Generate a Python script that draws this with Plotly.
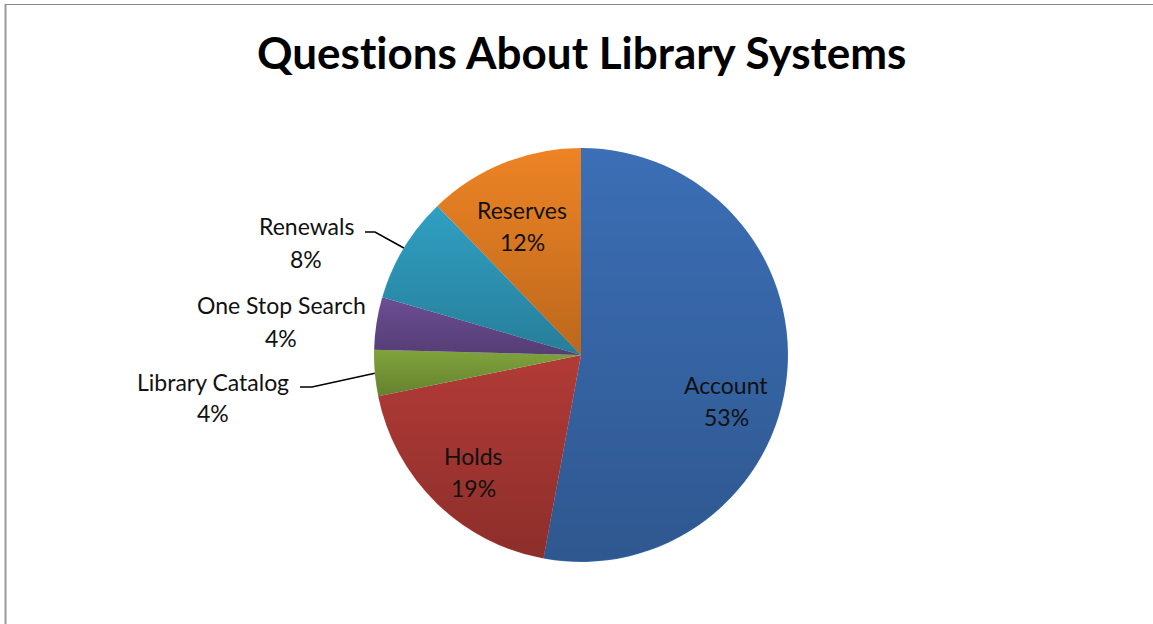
import base64
import math
import struct
import zlib

import numpy as np
import plotly.graph_objects as go

# ---- data -----------------------------------------------------------------
categories = ["Account", "Holds", "Library Catalog", "One Stop Search", "Renewals", "Reserves"]
shares = [52.9, 18.9, 3.6, 4.1, 8.3, 12.2]
colors = ["#3C6FB6", "#B23B37", "#80A43D", "#6C4E94", "#31A0C3", "#EE8425"]

W, H = 1153, 624
FONT = "Lato"
LABEL_SIZE = 23

# pie box in pixels
CX, CY, R = 581.0, 355.0, 207.0
dom_x = [(CX - R) / W, (CX + R) / W]
dom_y = [1 - (CY + R) / H, 1 - (CY - R) / H]

total = sum(shares)
pct = [f"{round(v / total * 100)}%" for v in shares]

# slice angles, clockwise from 12 o'clock
bounds = []
acc = 0.0
for v in shares:
    a0 = acc / total * 2 * math.pi
    acc += v
    a1 = acc / total * 2 * math.pi
    bounds.append((a0, a1))


def edge_point(i, rr=R):
    a0, a1 = bounds[i]
    m = (a0 + a1) / 2
    return CX + rr * math.sin(m), CY - rr * math.cos(m)


def px(x):
    return x / W


def py(y):
    return 1 - y / H


# ---- per-slice vertical shading overlay (PNG built with numpy) -------------
def shading_png():
    D = int(2 * R)
    ss = 3
    idx = (np.arange(D * ss) + 0.5) / ss
    xx, yy = np.meshgrid(idx - R, idx - R)
    rad = np.hypot(xx, yy)
    inside = rad <= (R - 0.6)
    ang = np.mod(np.arctan2(xx, -yy), 2 * np.pi)
    tval = np.zeros_like(xx)
    for a0, a1 in bounds:
        th = np.linspace(a0, a1, 200)
        ys = np.concatenate([-R * np.cos(th), [0.0]])
        top, bot = ys.min(), ys.max()
        m = (ang >= a0) & (ang < a1)
        tval[m] = np.clip((yy[m] - top) / max(bot - top, 1.0), 0, 1)
    alpha = np.where(inside, 0.21 * tval, 0.0)
    alpha = alpha.reshape(D, ss, D, ss).mean(axis=(1, 3))
    a8 = (alpha * 255).round().astype(np.uint8)
    rgba = np.zeros((D, D, 4), dtype=np.uint8)
    rgba[..., 3] = a8
    raw = b"".join(b"\x00" + rgba[r].tobytes() for r in range(D))

    def chunk(tag, data):
        c = struct.pack(">I", len(data)) + tag + data
        return c + struct.pack(">I", zlib.crc32(tag + data) & 0xFFFFFFFF)

    png = (b"\x89PNG\r\n\x1a\n"
           + chunk(b"IHDR", struct.pack(">IIBBBBB", D, D, 8, 6, 0, 0, 0))
           + chunk(b"IDAT", zlib.compress(raw, 9))
           + chunk(b"IEND", b""))
    return "data:image/png;base64," + base64.b64encode(png).decode()


fig = go.Figure(go.Pie(
    labels=categories,
    values=shares,
    sort=False,
    direction="clockwise",
    rotation=0,
    marker=dict(colors=colors, line=dict(width=0)),
    textinfo="none",
    domain=dict(x=dom_x, y=dom_y),
    showlegend=False,
    hoverinfo="label+percent",
))

annotations = []
shapes = []

# title, with ligatures switched off
annotations.append(dict(
    text='<span style="font-variant-ligatures:none;font-feature-settings:\'liga\' 0">'
         '<b>Questions About Library Systems</b></span>',
    x=px(581), y=py(52),
    xref="paper", yref="paper", showarrow=False,
    font=dict(family=FONT, size=44, color="#000000"),
    xanchor="center", yanchor="middle",
))

# data labels: (label centre x, name line y, percent line y)
label_pos = {
    "Account": (726, 385, 417),
    "Holds": (473, 456, 488),
    "Library Catalog": (213, 382, 413),
    "One Stop Search": (281, 305, 338),
    "Renewals": (306, 226, 259),
    "Reserves": (522, 210, 242),
}
for name, (lx, y1, y2) in label_pos.items():
    i = categories.index(name)
    for txt, yy in ((name, y1), (pct[i], y2)):
        annotations.append(dict(
            text=txt, x=px(lx), y=py(yy), xref="paper", yref="paper",
            showarrow=False, xanchor="center", yanchor="middle",
            font=dict(family=FONT, size=LABEL_SIZE, color="#111111"),
        ))

# leader lines (horizontal stub then to the slice edge)
leaders = {"Renewals": (365, 375, 232), "Library Catalog": (300, 312, 387)}
for name, (x0, x1, yl) in leaders.items():
    ex, ey = edge_point(categories.index(name))
    path = f"M {px(x0)} {py(yl)} L {px(x1)} {py(yl)} L {px(ex)} {py(ey)}"
    shapes.append(dict(type="path", path=path, xref="paper", yref="paper",
                       line=dict(color="#000000", width=1.6)))

# chart frame (left and top edges)
shapes.append(dict(type="line", xref="paper", yref="paper",
                   x0=px(5.5), x1=px(5.5), y0=0, y1=py(4),
                   line=dict(color="#9a9a9a", width=2)))
shapes.append(dict(type="line", xref="paper", yref="paper",
                   x0=px(5), x1=1, y0=py(4.5), y1=py(4.5),
                   line=dict(color="#8a8a8a", width=1)))

fig.update_layout(
    width=W, height=H,
    margin=dict(l=0, r=0, t=0, b=0),
    paper_bgcolor="white",
    plot_bgcolor="white",
    annotations=annotations,
    shapes=shapes,
    images=[dict(
        source=shading_png(), xref="paper", yref="paper",
        x=dom_x[0], y=dom_y[1], sizex=dom_x[1] - dom_x[0], sizey=dom_y[1] - dom_y[0],
        xanchor="left", yanchor="top", sizing="stretch", layer="above",
    )],
)

fig.write_html("out.html")
